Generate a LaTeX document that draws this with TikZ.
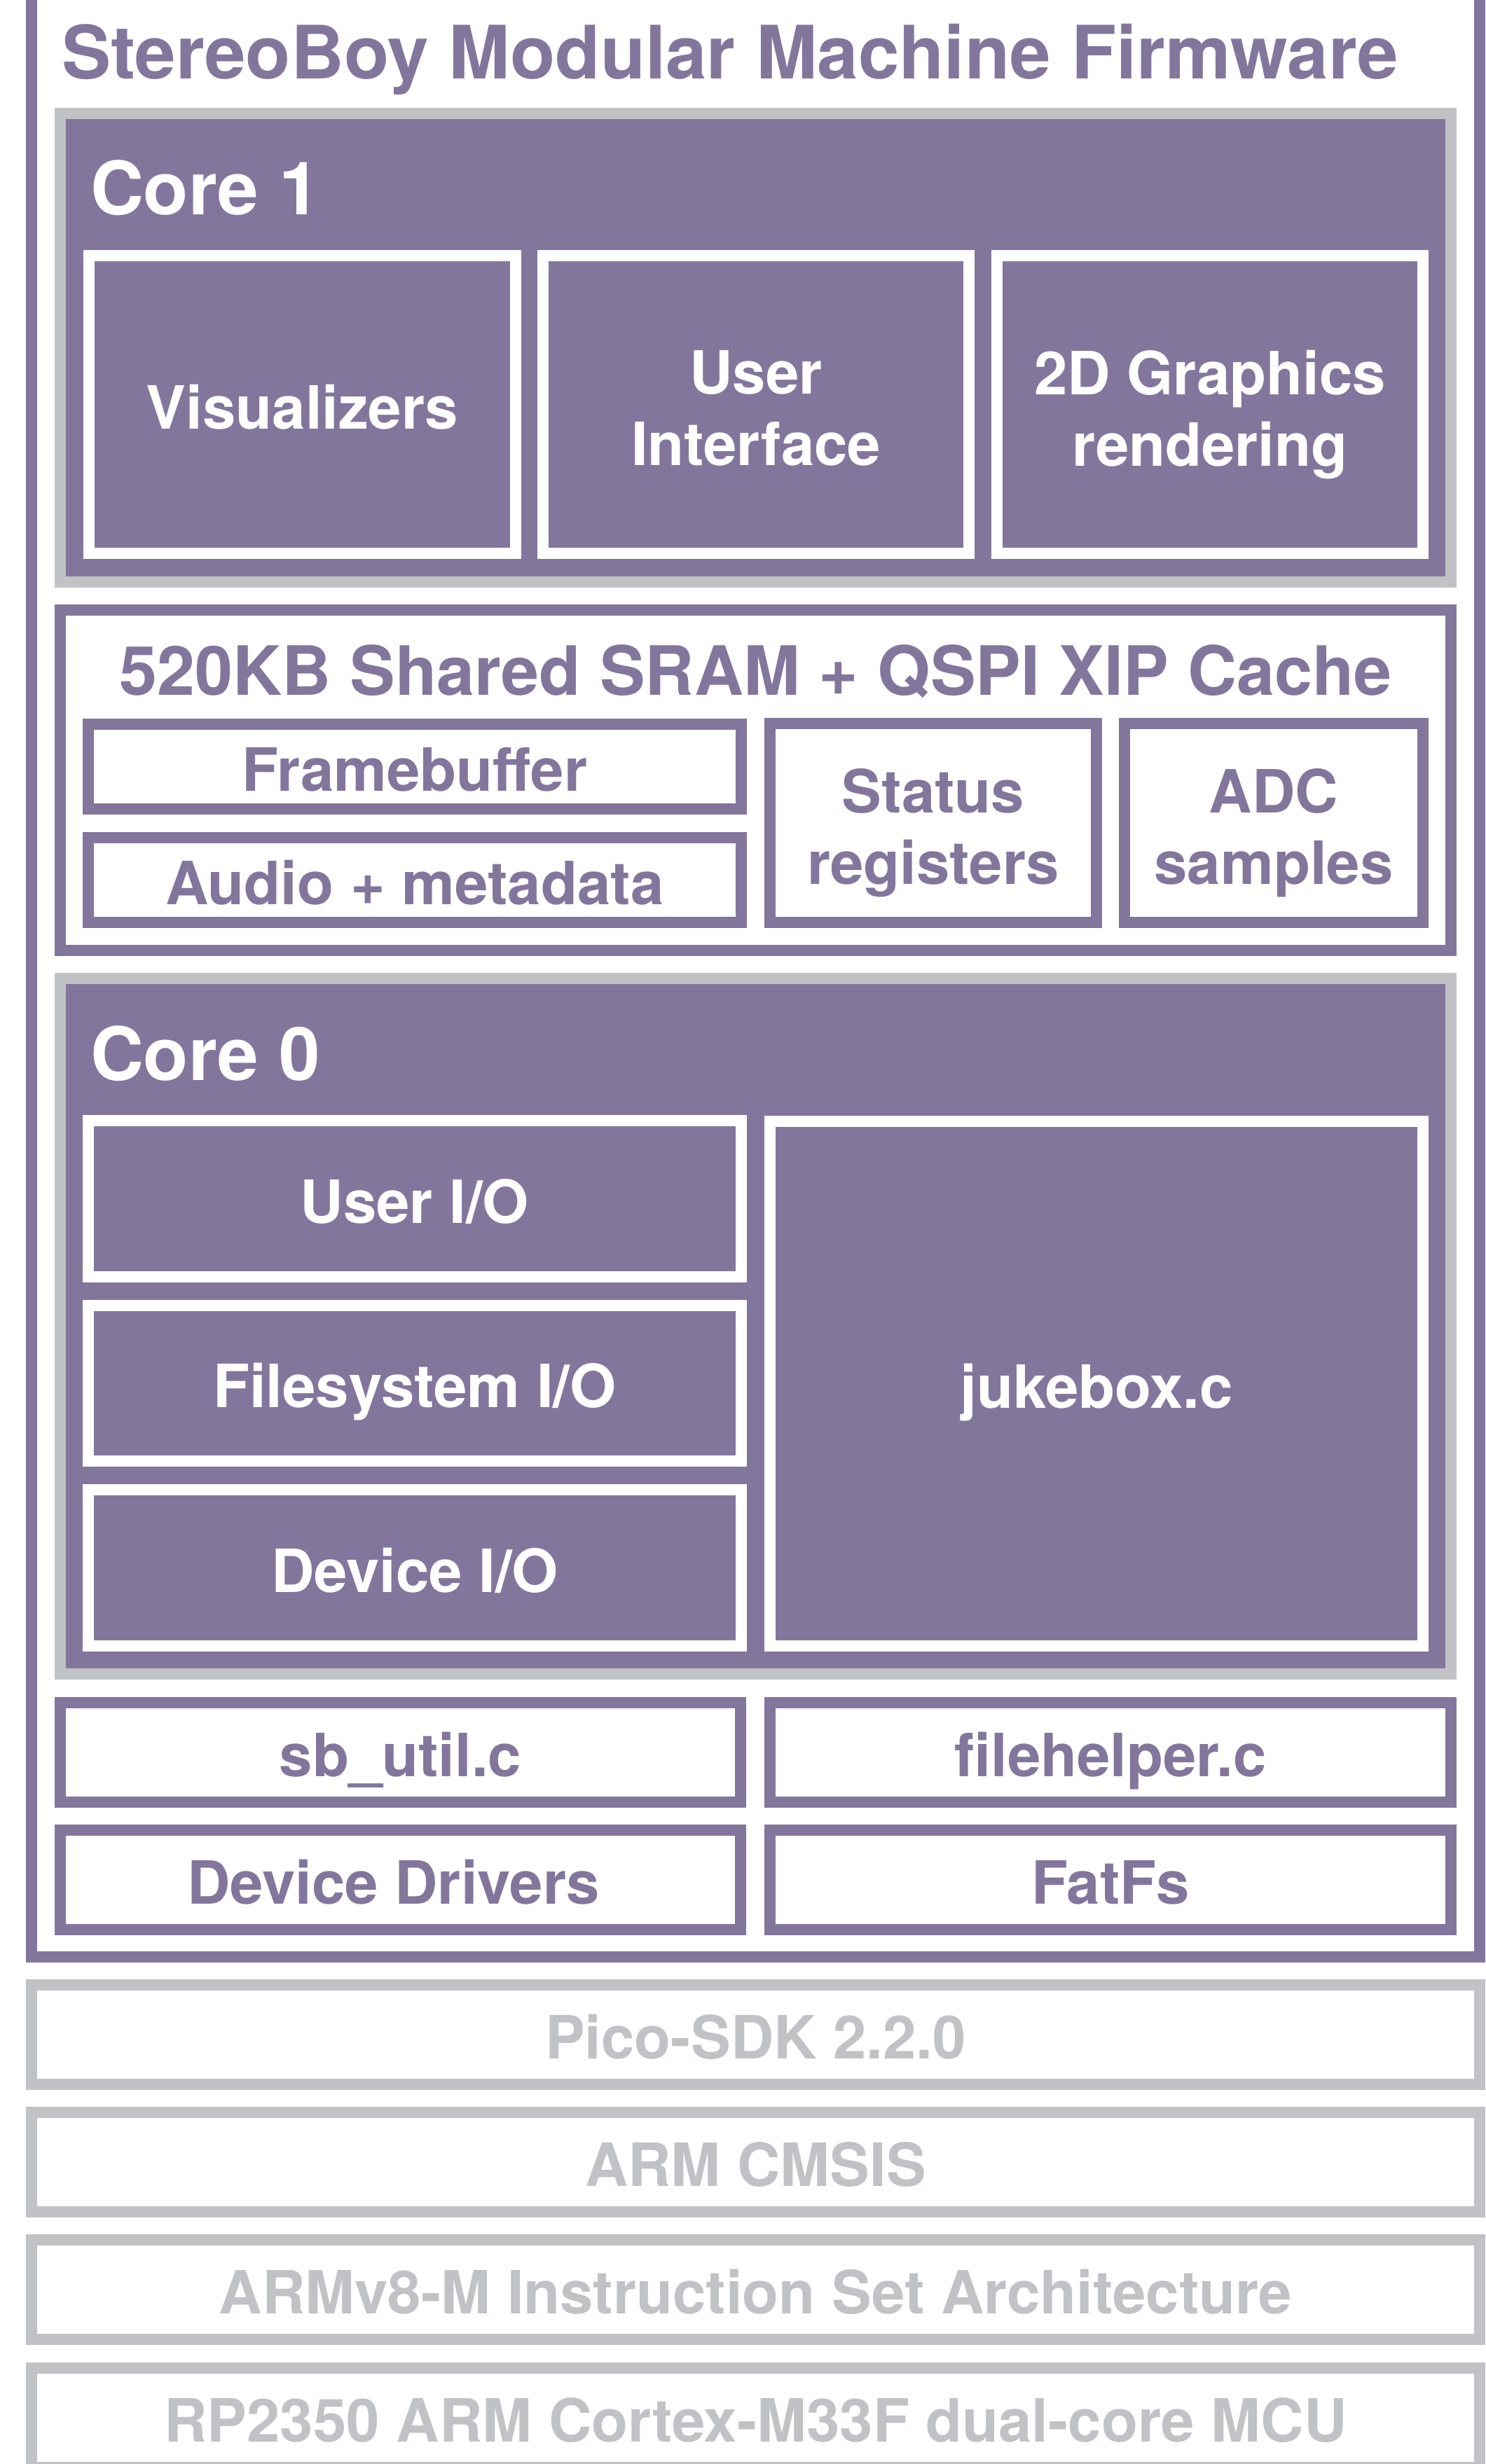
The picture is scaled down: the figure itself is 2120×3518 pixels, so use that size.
\documentclass[tikz,border=0pt]{standalone}
\usepackage{fontspec}
\setmainfont{TeX Gyre Heros}
\definecolor{cPurple}{HTML}{83769C}
\definecolor{cGray}{HTML}{C1C2C5}
\usetikzlibrary{positioning}

\begin{document}
\begin{tikzpicture}[x=0.01cm, y=-0.01cm,
		sz/.style 2 args={minimum width=#1*0.01cm, minimum height=#2*0.01cm},
		every node/.style={inner sep=0pt, outer sep=0pt},
		lbl/.style={font=\fontsize{24.2}{29}\selectfont\bfseries, text height=0.69cm, text depth=0pt},
		twoline/.style={font=\fontsize{24.2}{29}\selectfont\bfseries, align=center, text depth=0pt, yshift=-0.05cm},
		big/.style={font=\fontsize{29.9}{36}\selectfont\bfseries, anchor=base west},
		core/.style={draw=cGray, line width=0.16cm, fill=cPurple},
		task/.style={draw=white, line width=0.16cm, fill=cPurple, text=white, lbl},
		mem/.style={draw=cPurple, line width=0.16cm, fill=white, text=cPurple, lbl},
		layer/.style={draw=cGray, line width=0.16cm, fill=white, text=cGray, lbl}]
			\useasboundingbox (0,0) rectangle (2120,3518);
			\clip (0,0) rectangle (2120,3518);
			% firmware frame
			\node [draw=cPurple, line width=0.16cm, sz={2067}{2834}] (fw) at (1078.5,1377) {};
			\node [big, text=cPurple] (title) at (88,113) {StereoBoy Modular Machine Firmware};
			% core 1
			\node [core, sz={1985}{669}] (core1) at (1078.5,496.5) {};
			\node [big, text=white] (core1lbl) at (129,306) {Core 1};
			\node [task, sz={609}{425}] (vis) at (431.5,577.5) {Visualizers};
			\node [task, sz={608}{425}] (ui) at (1079,577.5) {};
			\node [twoline, text=white] (uitxt) at (ui) {User\\Interface};
			\node [task, sz={608}{425}] (gfx) at (1727,577.5) {};
			\node [twoline, text=white] (gfxtxt) at (gfx) {2D Graphics\\rendering};
			% shared memory
			\node [mem, sz={1985}{486}] (sram) at (1078.5,1114) {};
			\node [font=\fontsize{27.6}{33}\selectfont\bfseries, text=cPurple, anchor=base] (sramlbl) at (1078.5,992) {520KB Shared SRAM + QSPI XIP Cache};
			\node [mem, sz={932}{121}] (fb) at (592,1094.5) {Framebuffer};
			\node [mem, sz={932}{121}] (audio) at (592,1256.5) {Audio + metadata};
			\node [mem, sz={466}{284}] (status) at (1332,1175) {};
			\node [twoline, text=cPurple] (statustxt) at (status) {Status\\registers};
			\node [mem, sz={426}{284}] (adc) at (1818,1175) {};
			\node [twoline, text=cPurple] (adctxt) at (adc) {ADC\\samples};
			% core 0
			\node [core, sz={1985}{993}] (core0) at (1078.5,1893.5) {};
			\node [big, text=white] (core0lbl) at (129,1542) {Core 0};
			\node [task, sz={932}{223}] (userio) at (592,1711.5) {User I/O};
			\node [task, sz={932}{222}] (fsio) at (592,1975) {Filesystem I/O};
			\node [task, sz={932}{223}] (devio) at (592,2238.5) {Device I/O};
			\node [task, sz={932}{749}] (jukebox) at (1565,1975.5) {jukebox.c};
			% libraries
			\node [mem, sz={971}{142}] (sbutil) at (571.5,2502) {sb\_util.c};
			\node [mem, sz={972}{142}] (filehelper) at (1585,2502) {filehelper.c};
			\node [mem, sz={971}{142}] (drivers) at (571.5,2684) {Device Drivers\hspace*{0.2cm}};
			\node [mem, sz={972}{142}] (fatfs) at (1585,2684) {FatFs};
			% platform layers
			\node [layer, sz={2067}{142}] (sdk) at (1078.5,2905) {Pico-SDK 2.2.0};
			\node [layer, sz={2067}{142}] (cmsis) at (1078.5,3087) {ARM CMSIS};
			\node [layer, sz={2067}{142}] (isa) at (1078.5,3269) {ARMv8-M Instruction Set Architecture};
			\node [layer, sz={2067}{142}] (mcu) at (1078.5,3452) {RP2350 ARM Cortex-M33F dual-core MCU};
		\end{tikzpicture}
\end{document}
